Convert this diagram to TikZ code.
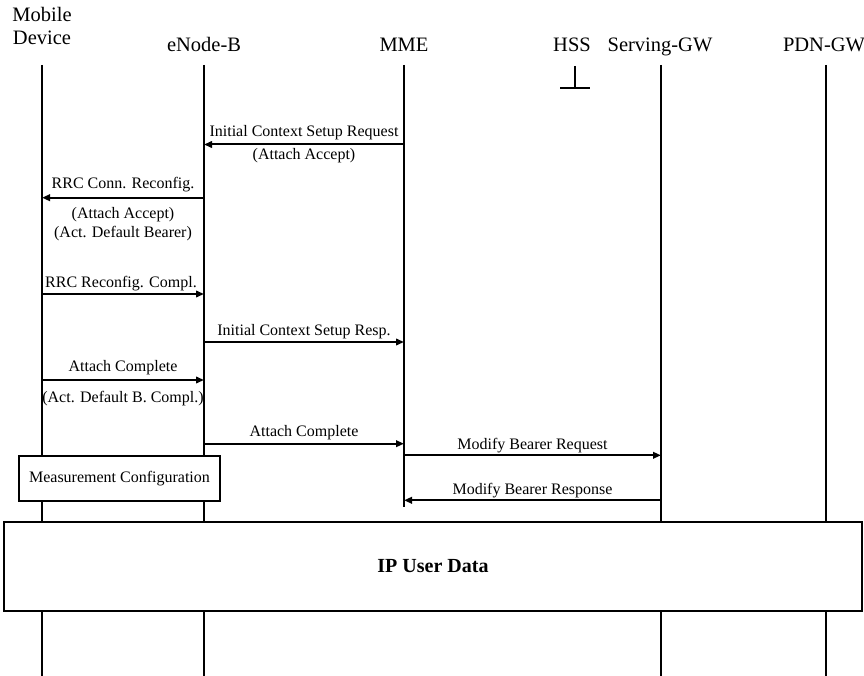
\documentclass[tikz,border=0pt]{standalone}
\usepackage{fontspec}
\setmainfont{Liberation Serif}
\usetikzlibrary{arrows.meta}
\begin{document}
\begin{tikzpicture}[x=1pt,y=-1pt,
  hdr/.style={font=\fontsize{20.5}{23}\selectfont, inner sep=0pt, anchor=base},
  msg/.style={font=\fontsize{16}{18}\selectfont, inner sep=0pt, anchor=base},
  life/.style={line width=2pt},
  arr/.style={line width=2pt, -{Triangle[length=8pt,width=6.5pt]}},
  box/.style={draw, line width=2pt, fill=white, inner sep=0pt}]
\useasboundingbox (0,0) rectangle (864,676);

% lifelines
\foreach \n/\x/\b in {ue/42/676, enb/204/676, mme/404/507, sgw/661/676, pgw/826/676}{
  \coordinate (\n-top) at (\x,65);
  \coordinate (\n-bot) at (\x,\b);
  \draw[life] (\n-top) -- (\n-bot);
}
\coordinate (hss-top) at (575,66);
\coordinate (hss-bot) at (575,88);
\coordinate (hss-fl) at (560,88);
\coordinate (hss-fr) at (590,88);
\draw[life] (hss-top) -- (hss-bot);
\draw[life] (hss-fl) -- (hss-fr);

% headers
\node[hdr] (ue-l1) at (42,22) {Mobile};
\node[hdr] (ue-l2) at (42,45) {Device};
\node[hdr] (enb-l) at (204,52) {eNode-B};
\node[hdr] (mme-l) at (404,52) {MME};
\node[hdr] (hss-l) at (572,52) {HSS};
\node[hdr] (sgw-l) at (660,52) {Serving-GW};
\node[hdr] (pgw-l) at (824,52) {PDN-GW};

% message 1
\coordinate (a1s) at (404,144.5); \coordinate (a1e) at (204,144.5);
\draw[arr] (a1s) -- (a1e);
\node[msg] (l1) at (304,137) {Initial Context Setup Request};
\node[msg] (l1b) at (304,160) {(Attach Accept)};

% message 2
\coordinate (a2s) at (204,197.7); \coordinate (a2e) at (42,197.7);
\draw[arr] (a2s) -- (a2e);
\node[msg] (l2) at (123,188.5) {RRC Conn. Reconfig.};
\node[msg] (l2b) at (123,219) {(Attach Accept)};
\node[msg] (l2c) at (123,238) {(Act. Default Bearer)};

% message 3
\coordinate (a3s) at (42,294); \coordinate (a3e) at (204,294);
\draw[arr] (a3s) -- (a3e);
\node[msg] (l3) at (121,287.8) {RRC Reconfig. Compl.};

% message 4
\coordinate (a4s) at (204,342); \coordinate (a4e) at (404,342);
\draw[arr] (a4s) -- (a4e);
\node[msg] (l4) at (304,335) {Initial Context Setup Resp.};

% message 5
\coordinate (a5s) at (42,380); \coordinate (a5e) at (204,380);
\draw[arr] (a5s) -- (a5e);
\node[msg] (l5) at (123,371) {Attach Complete};
\node[msg] (l5b) at (123,402.5) {(Act. Default B. Compl.)};

% message 6
\coordinate (a6s) at (204,443.7); \coordinate (a6e) at (404,443.7);
\draw[arr] (a6s) -- (a6e);
\node[msg] (l6) at (304,436.7) {Attach Complete};

% measurement configuration
\node[box, minimum width=201pt, minimum height=45pt,
      font=\fontsize{16}{18}\selectfont] (meas) at (119.5,478.5) {Measurement Configuration};

% message 8
\coordinate (a8s) at (404,455.3); \coordinate (a8e) at (661,455.3);
\draw[arr] (a8s) -- (a8e);
\node[msg] (l8) at (532.5,449.3) {Modify Bearer Request};

% message 9
\coordinate (a9s) at (661,500.3); \coordinate (a9e) at (404,500.3);
\draw[arr] (a9s) -- (a9e);
\node[msg] (l9) at (532.5,494) {Modify Bearer Response};

% IP user data
\node[box, line width=2.4pt, minimum width=858pt, minimum height=89pt,
      font=\fontsize{20}{23}\selectfont\bfseries] (ip) at (433,566.5) {IP User Data};
\end{tikzpicture}
\end{document}
